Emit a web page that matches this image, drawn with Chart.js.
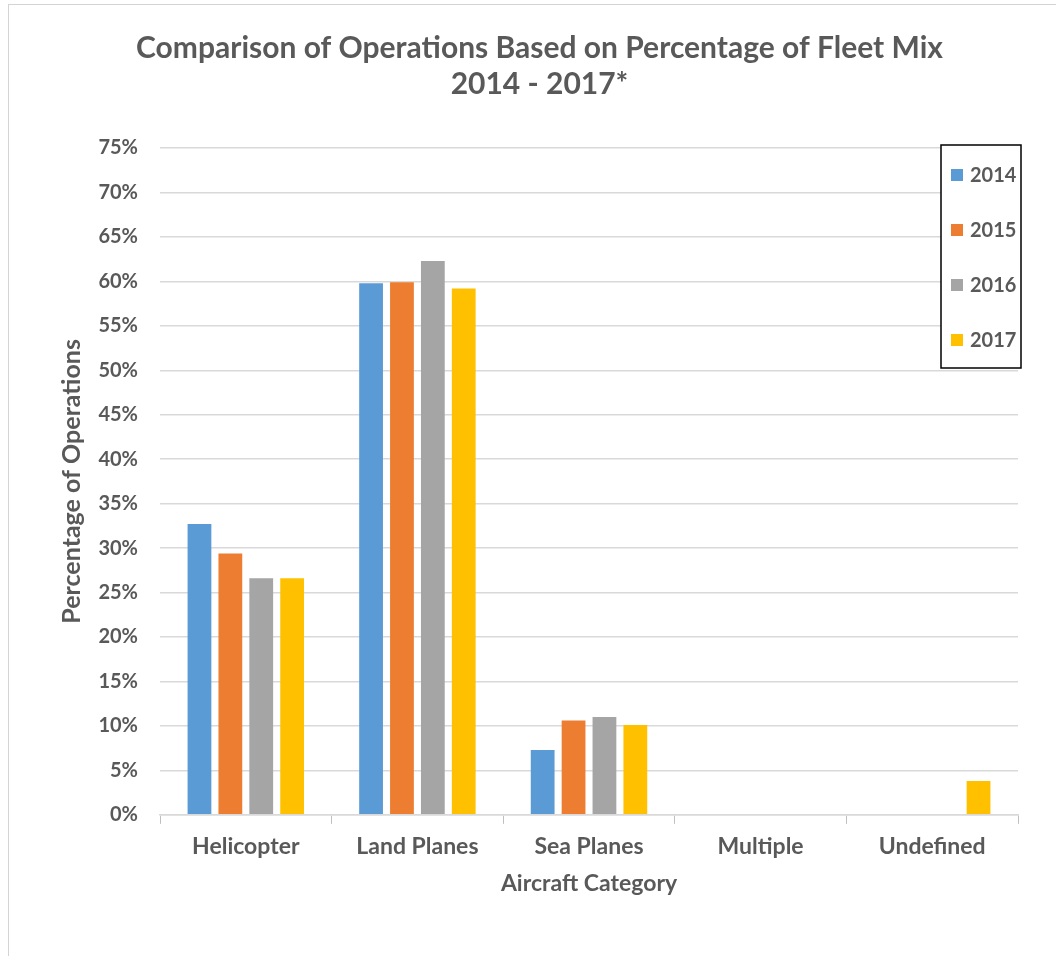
<!DOCTYPE html>
<html>
<head>
<meta charset="utf-8">
<script src="https://cdn.jsdelivr.net/npm/chart.js@4/dist/chart.umd.min.js"></script>
<style>
  html, body { margin: 0; padding: 0; background: #ffffff; overflow: hidden; }
  #wrap { position: relative; width: 1056px; height: 956px; overflow: hidden; }
  #frame { position: absolute; left: 8px; top: 4px; width: 1070px; height: 980px; border: 1.5px solid #d4d4d4; box-sizing: border-box; pointer-events: none; }
</style>
</head>
<body>
<div id="wrap">
  <canvas id="c" width="1056" height="956"></canvas>
  <div id="frame"></div>
</div>
<script>
const categories = ["Helicopter", "Land Planes", "Sea Planes", "Multiple", "Undefined"];
const seriesNames = ["2014", "2015", "2016", "2017"];
const values2014 = [32.7, 59.8, 7.3, 0, 0];
const values2015 = [29.4, 59.9, 10.6, 0, 0];
const values2016 = [26.6, 62.3, 11.0, 0, 0];
const values2017 = [26.6, 59.2, 10.1, 0, 3.8];
const seriesColors = ["#5b9bd5", "#ed7d31", "#a5a5a5", "#ffc000"];
const titleLines = ["Comparison of Operations Based on Percentage of Fleet Mix", "2014 - 2017*"];
const yTitle = "Percentage of Operations";
const xTitle = "Aircraft Category";

const allValues = [values2014, values2015, values2016, values2017];
const FONT = "Lato, 'Open Sans', sans-serif";
const TEXT = "#595959";

const boxLegend = {
  id: 'boxLegend',
  afterDraw(chart) {
    const ctx = chart.ctx;
    const x0 = 941, y0 = 145, w = 80, h = 223;
    ctx.save();
    ctx.fillStyle = '#ffffff';
    ctx.fillRect(x0, y0, w, h);
    ctx.strokeStyle = '#000000';
    ctx.lineWidth = 1.5;
    ctx.strokeRect(x0, y0, w, h);
    ctx.font = "bold 20px " + FONT;
    ctx.textBaseline = 'middle';
    chart.data.datasets.forEach((ds, i) => {
      const cy = y0 + 30 + i * 55;
      ctx.fillStyle = ds.backgroundColor;
      ctx.fillRect(x0 + 10, cy - 6, 12, 12);
      ctx.fillStyle = TEXT;
      ctx.fillText(ds.label, x0 + 29, cy + 1);
    });
    ctx.restore();
  }
};

new Chart(document.getElementById('c'), {
  type: 'bar',
  data: {
    labels: categories,
    datasets: seriesNames.map((n, i) => ({
      label: n,
      data: allValues[i],
      backgroundColor: seriesColors[i],
      borderWidth: 0,
      categoryPercentage: 0.72,
      barPercentage: 0.77
    }))
  },
  options: {
    responsive: false,
    animation: false,
    devicePixelRatio: 1,
    layout: { padding: { left: 61, right: 38, top: 30, bottom: 55 } },
    plugins: {
      legend: { display: false },
      tooltip: { enabled: false },
      title: {
        display: true,
        text: titleLines,
        color: TEXT,
        font: { family: FONT, size: 30, weight: 'bold', lineHeight: 1.2 },
        padding: { top: 0, bottom: 46 }
      }
    },
    scales: {
      x: {
        grid: { display: true, offset: true, drawOnChartArea: false, drawTicks: true, tickLength: 9, color: '#bfbfbf' },
        border: { display: true, color: '#d9d9d9', width: 1.5 },
        ticks: { color: TEXT, font: { family: FONT, size: 23, weight: 'bold' }, padding: 9 },
        title: { display: true, text: xTitle, color: TEXT, font: { family: FONT, size: 23, weight: 'bold' }, padding: { top: 0 } }
      },
      y: {
        min: 0, max: 75,
        afterFit: scale => { scale.width = 99; },
        ticks: { stepSize: 5, color: TEXT, font: { family: FONT, size: 20, weight: 'bold' }, padding: 22, callback: v => v + '%' },
        grid: { color: '#d9d9d9', lineWidth: 1.5, drawTicks: false },
        border: { display: false },
        title: { display: true, text: yTitle, color: TEXT, font: { family: FONT, size: 25, weight: 'bold', lineHeight: 0.9 }, padding: { top: 0, bottom: 12 } }
      }
    }
  },
  plugins: [boxLegend]
});
</script>
</body>
</html>
